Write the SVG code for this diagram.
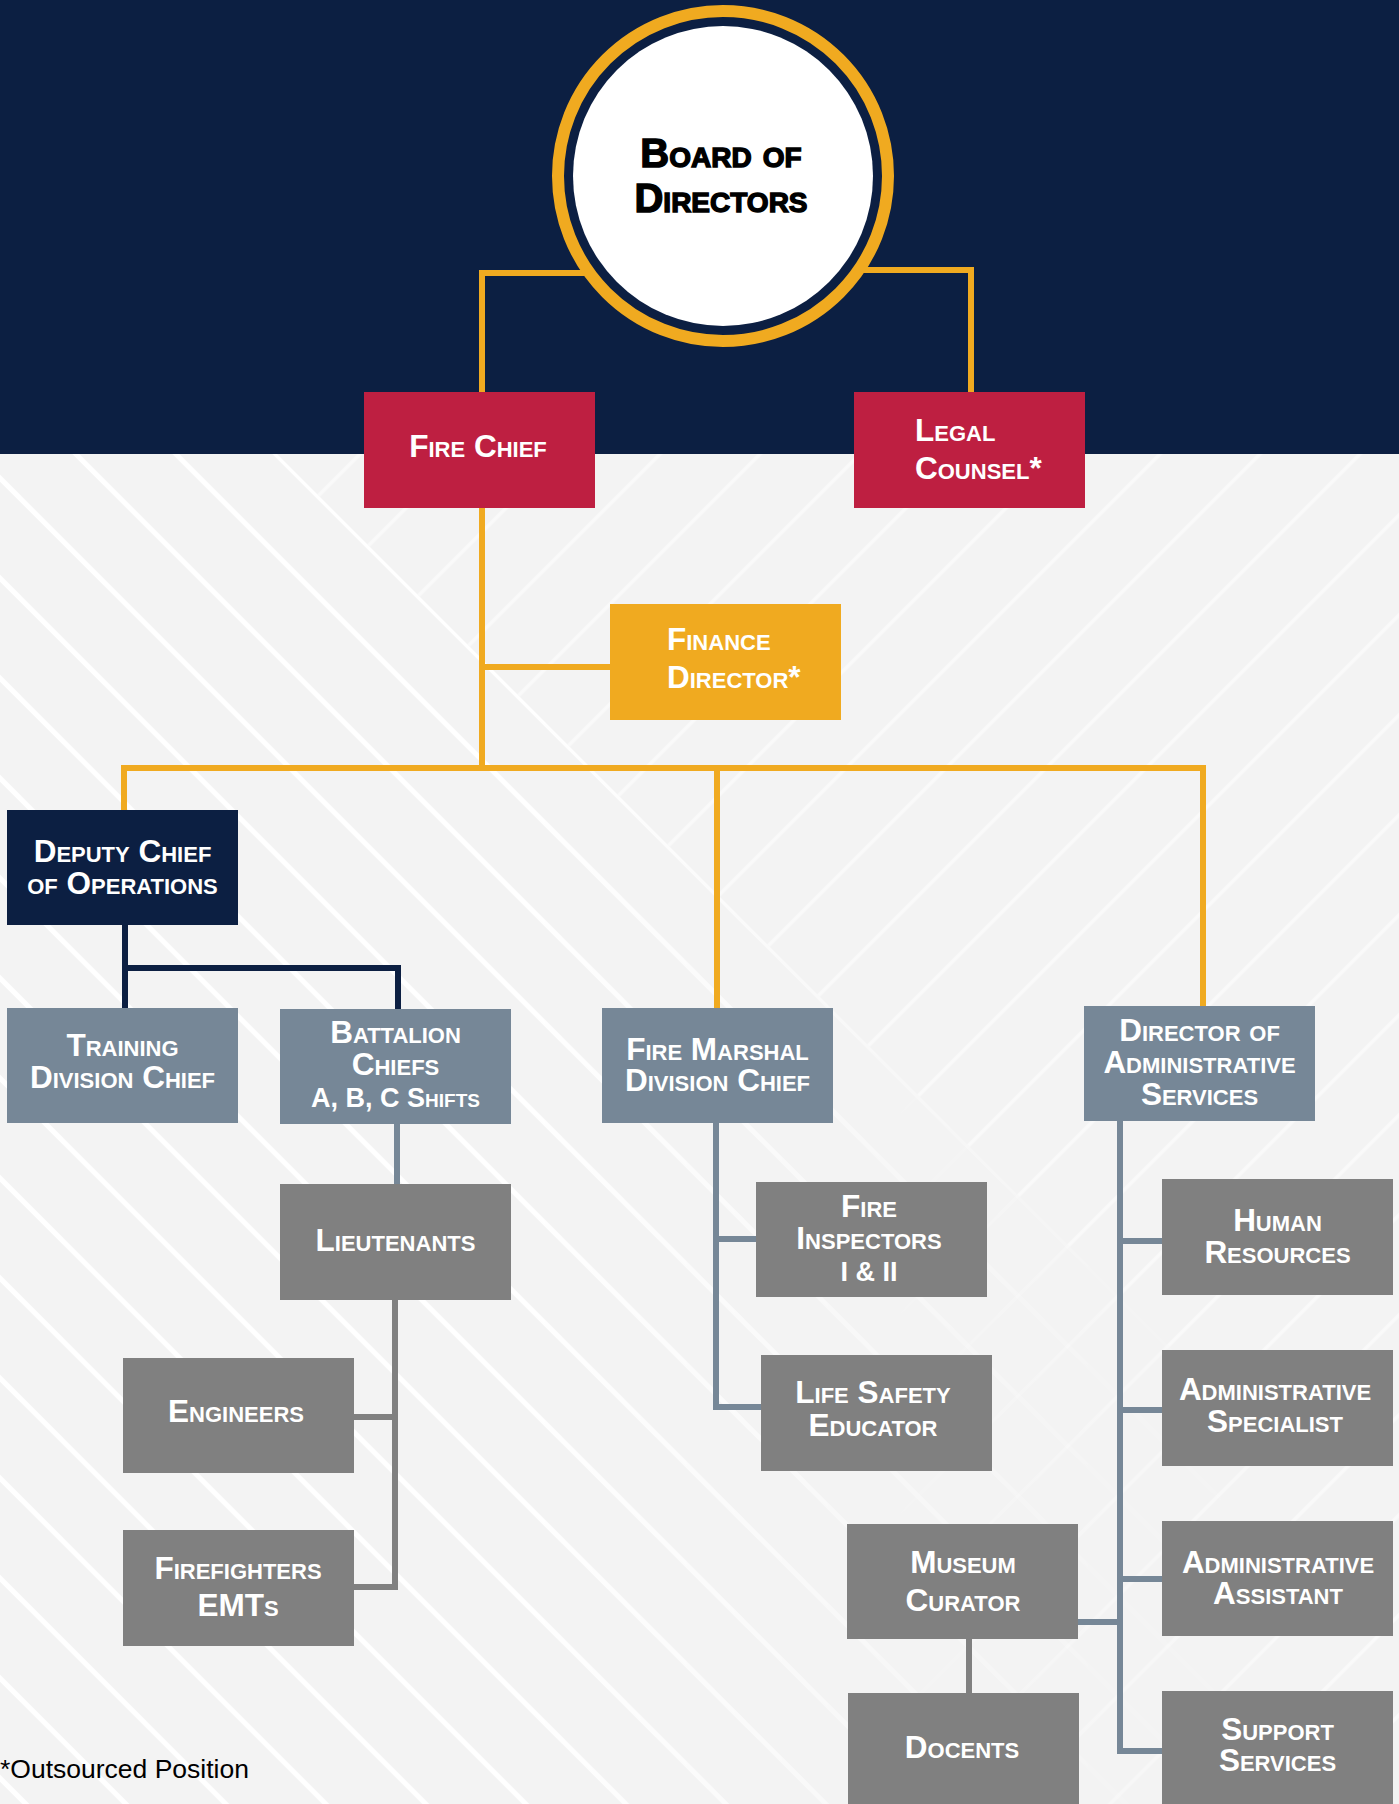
<svg xmlns="http://www.w3.org/2000/svg" width="1399" height="1804" viewBox="0 0 1399 1804">
<style>
.t{font-family:"Liberation Sans",Arial,sans-serif;font-weight:bold;font-variant:small-caps;font-size:31.5px;fill:#fff;text-anchor:middle}
.l{text-anchor:start}
.s{font-size:27px}
.navy{fill:#0C1F42}
.red{fill:#BE1F41}
.org{fill:#F0AA20}
.bg{fill:#768797}
.gr{fill:#808080}
.c{fill:none;stroke-width:6}
.co{stroke:#F0AA20}
.cn{stroke:#0C1F42}
.cb{stroke:#768797}
.cg{stroke:#808080}
</style>
<defs>
<pattern id="stripeA" width="70.71" height="20" patternUnits="userSpaceOnUse" patternTransform="rotate(-45)"><rect x="13" y="0" width="5" height="20" fill="#fff"/></pattern>
<pattern id="stripeB" width="70.71" height="20" patternUnits="userSpaceOnUse" patternTransform="rotate(45)"><rect x="8.2" y="0" width="3.5" height="20" fill="#fff"/></pattern>
<linearGradient id="gA" gradientUnits="userSpaceOnUse" x1="0" y1="0" x2="1399" y2="0">
<stop offset="0" stop-color="#fff"/><stop offset="0.38" stop-color="#fff" stop-opacity="0.95"/><stop offset="0.62" stop-color="#fff" stop-opacity="0.4"/><stop offset="0.8" stop-color="#fff" stop-opacity="0.12"/><stop offset="1" stop-color="#fff" stop-opacity="0"/>
</linearGradient>
<linearGradient id="gB" gradientUnits="userSpaceOnUse" x1="0" y1="0" x2="1399" y2="0">
<stop offset="0" stop-color="#fff" stop-opacity="0"/><stop offset="0.6" stop-color="#fff" stop-opacity="0"/><stop offset="0.8" stop-color="#fff" stop-opacity="0.35"/><stop offset="1" stop-color="#fff" stop-opacity="0.6"/>
</linearGradient>
<mask id="mA" maskUnits="userSpaceOnUse" x="0" y="0" width="1399" height="1804"><polygon points="0,454 277,454 1399,1576 1399,1804 0,1804" fill="url(#gA)"/></mask>
<mask id="mB" maskUnits="userSpaceOnUse" x="0" y="0" width="1399" height="1804"><polygon points="277,454 1399,454 1399,1576" fill="#fff" fill-opacity="0.55"/><polygon points="0,454 277,454 1399,1576 1399,1804 0,1804" fill="url(#gB)"/></mask>
</defs>

<g id="background">
<rect x="0" y="0" width="1399" height="1804" fill="#F3F3F3"/>
<rect x="0" y="454" width="1399" height="1350" fill="url(#stripeA)" mask="url(#mA)"/>
<rect x="0" y="454" width="1399" height="1350" fill="url(#stripeB)" mask="url(#mB)"/>
<rect x="0" y="0" width="1399" height="454" fill="#0C1F42"/>
</g>

<g id="connectors">
<path class="c co" d="M482 392V273H600"/>
<path class="c co" d="M850 270H971V392"/>
<path class="c co" d="M482 508V768"/>
<path class="c co" d="M482 667H610"/>
<path class="c co" d="M124 810V768H1203V1006"/>
<path class="c co" d="M717 768V1008"/>
<path class="c cn" d="M125 925V1008"/>
<path class="c cn" d="M125 968H398V1009"/>
<path class="c cb" d="M397 1124V1184"/>
<path class="c cg" d="M395 1300V1587H353"/>
<path class="c cg" d="M395 1417H353"/>
<path class="c cb" d="M716 1123V1407H761"/>
<path class="c cb" d="M716 1239H756"/>
<path class="c cb" d="M1120 1121V1751H1162"/>
<path class="c cb" d="M1120 1241H1162"/>
<path class="c cb" d="M1120 1410H1162"/>
<path class="c cb" d="M1120 1579H1162"/>
<path class="c cb" d="M1078 1622H1120"/>
<path class="c cg" d="M969 1639V1693"/>
</g>

<g id="board">
<circle cx="723" cy="176" r="165" fill="#0C1F42" stroke="#F0AA20" stroke-width="12"/>
<circle cx="723" cy="176" r="150" fill="#fff"/>
<text font-family="Liberation Sans, Arial, sans-serif" font-weight="bold" font-variant="small-caps" font-size="40" fill="#000" stroke="#000" stroke-width="1.4" text-anchor="middle"><tspan x="721" y="167">Board of</tspan><tspan x="721" y="212">Directors</tspan></text>
</g>

<g id="fire-chief">
<rect class="red" x="364" y="392" width="231" height="116"/>
<text class="t" x="478" y="457">Fire Chief</text>
</g>

<g id="legal-counsel">
<rect class="red" x="854" y="392" width="231" height="116"/>
<text class="t l"><tspan x="915" y="441">Legal</tspan><tspan x="915" y="479">Counsel*</tspan></text>
</g>

<g id="finance-director">
<rect class="org" x="610" y="604" width="231" height="116"/>
<text class="t l"><tspan x="667" y="650">Finance</tspan><tspan x="667" y="688">Director*</tspan></text>
</g>

<g id="deputy-chief">
<rect class="navy" x="7" y="810" width="231" height="115"/>
<text class="t"><tspan x="122.5" y="862">Deputy Chief</tspan><tspan x="122.5" y="894">of Operations</tspan></text>
</g>

<g id="training-division-chief">
<rect class="bg" x="7" y="1008" width="231" height="115"/>
<text class="t"><tspan x="122.5" y="1056">Training</tspan><tspan x="122.5" y="1088">Division Chief</tspan></text>
</g>

<g id="battalion-chiefs">
<rect class="bg" x="280" y="1009" width="231" height="115"/>
<text class="t"><tspan x="395.5" y="1043">Battalion</tspan><tspan x="395.5" y="1075">Chiefs</tspan><tspan x="395.5" y="1107" class="s">A, B, C Shifts</tspan></text>
</g>

<g id="fire-marshal">
<rect class="bg" x="602" y="1008" width="231" height="115"/>
<text class="t"><tspan x="717.5" y="1060">Fire Marshal</tspan><tspan x="717.5" y="1091">Division Chief</tspan></text>
</g>

<g id="director-admin">
<rect class="bg" x="1084" y="1006" width="231" height="115"/>
<text class="t"><tspan x="1199.5" y="1041">Director of</tspan><tspan x="1199.5" y="1073">Administrative</tspan><tspan x="1199.5" y="1105">Services</tspan></text>
</g>

<g id="lieutenants">
<rect class="gr" x="280" y="1184" width="231" height="116"/>
<text class="t" x="395.5" y="1251">Lieutenants</text>
</g>

<g id="engineers">
<rect class="gr" x="123" y="1358" width="231" height="115"/>
<text class="t" x="236" y="1422">Engineers</text>
</g>

<g id="firefighters">
<rect class="gr" x="123" y="1530" width="231" height="116"/>
<text class="t"><tspan x="238" y="1579">Firefighters</tspan><tspan x="238" y="1616">EMTs</tspan></text>
</g>

<g id="fire-inspectors">
<rect class="gr" x="756" y="1182" width="231" height="115"/>
<text class="t"><tspan x="869" y="1217">Fire</tspan><tspan x="869" y="1249">Inspectors</tspan><tspan x="869" y="1281" class="s">I &amp; II</tspan></text>
</g>

<g id="life-safety-educator">
<rect class="gr" x="761" y="1355" width="231" height="116"/>
<text class="t"><tspan x="873" y="1403">Life Safety</tspan><tspan x="873" y="1436">Educator</tspan></text>
</g>

<g id="human-resources">
<rect class="gr" x="1162" y="1179" width="231" height="116"/>
<text class="t"><tspan x="1277.5" y="1231">Human</tspan><tspan x="1277.5" y="1263">Resources</tspan></text>
</g>

<g id="administrative-specialist">
<rect class="gr" x="1162" y="1350" width="231" height="116"/>
<text class="t"><tspan x="1275" y="1400">Administrative</tspan><tspan x="1275" y="1432">Specialist</tspan></text>
</g>

<g id="administrative-assistant">
<rect class="gr" x="1162" y="1521" width="231" height="115"/>
<text class="t"><tspan x="1278" y="1573">Administrative</tspan><tspan x="1278" y="1604">Assistant</tspan></text>
</g>

<g id="support-services">
<rect class="gr" x="1162" y="1691" width="231" height="115"/>
<text class="t"><tspan x="1277.5" y="1740">Support</tspan><tspan x="1277.5" y="1771">Services</tspan></text>
</g>

<g id="museum-curator">
<rect class="gr" x="847" y="1524" width="231" height="115"/>
<text class="t"><tspan x="963" y="1573">Museum</tspan><tspan x="963" y="1611">Curator</tspan></text>
</g>

<g id="docents">
<rect class="gr" x="848" y="1693" width="231" height="115"/>
<text class="t" x="962" y="1758">Docents</text>
</g>

<g id="footnote">
<text x="0" y="1778" font-family="Liberation Sans, Arial, sans-serif" font-size="26.5" fill="#000">*Outsourced Position</text>
</g>
</svg>
